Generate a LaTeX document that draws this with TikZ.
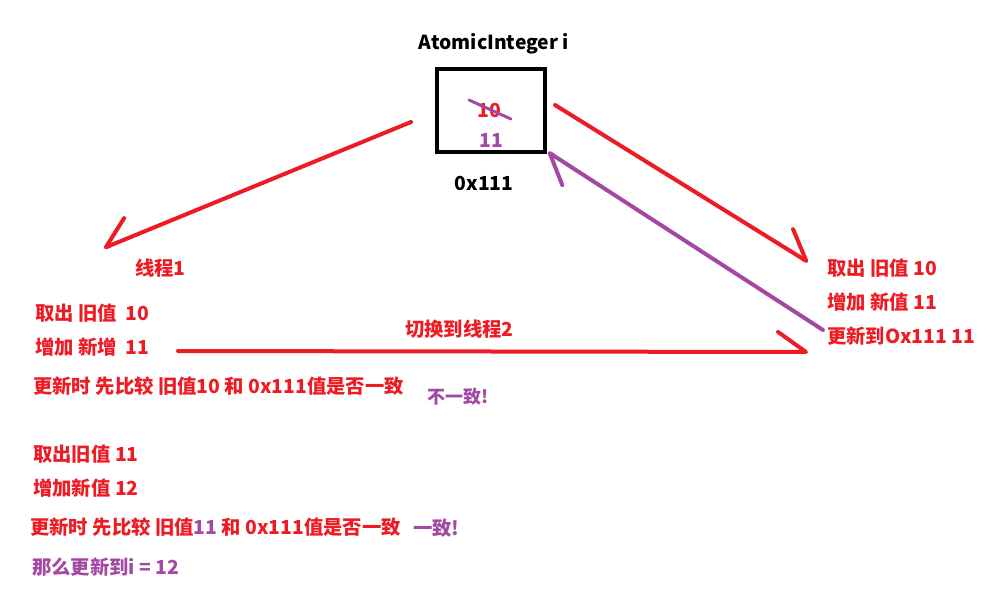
\documentclass[tikz,border=0pt]{standalone}
\usepackage{fontspec}
\setmainfont{Noto Sans CJK SC}
\usetikzlibrary{arrows.meta}
\definecolor{paintred}{RGB}{237,28,36}
\definecolor{paintpurple}{RGB}{163,73,164}

\tikzset{
  lbl/.style={inner sep=0pt, font=\bfseries\fontsize{14.5}{16}\selectfont},
  redlbl/.style={lbl, anchor=west, text=paintred},
  purplbl/.style={lbl, anchor=west, text=paintpurple},
  stroke/.style={line width=3pt, line cap=round},
  barbtip/.style={-{Straight Barb[harpoon,round,length=21pt,width=30pt]}},
  barbswap/.style={-{Straight Barb[harpoon,swap,round,length=21pt,width=30pt]}}
}

\begin{document}
\begin{tikzpicture}[x=0.75pt,y=-0.75pt]
  \useasboundingbox (0,0) rectangle (993,603);

  % the shared variable
  \node[lbl] (title) at (494,44) {AtomicInteger i};
  \node[draw, line width=3pt, minimum width=81pt, minimum height=62pt, inner sep=0pt] (box) at (491,110.5) {};
  \node[lbl, text=paintred] (old) at (489,110) {10};
  \draw[line width=2.2pt, paintpurple, line cap=round] (469,100) -- (511,119);
  \node[lbl, text=paintpurple] (new) at (491,140) {11};
  \node[lbl] (addr) at (484,183) {0x111};

  % thread 1
  \node[redlbl] (t1) at (135,268) {线程1};
  \node[redlbl] (t1get) at (35,313) {取出 旧值 \ 10};
  \node[redlbl] (t1inc) at (35,347) {增加 新增 \ 11};
  \node[redlbl] (t1cmp) at (33,386) {更新时 先比较 旧值10 和 0x111值是否一致};
  \node[purplbl, font=\bfseries\fontsize{13.5}{15}\selectfont] (t1fail) at (427,397) {不一致!};
  \node[redlbl] (t1get2) at (33,454) {取出旧值 11};
  \node[redlbl] (t1inc2) at (33,488) {增加新值 12};
  \node[redlbl] (t1cmp2) at (30,527) {更新时 先比较 旧值\textcolor{paintpurple}{11} 和 0x111值是否一致};
  \node[purplbl] (t1ok) at (413,528) {一致!};
  \node[purplbl] (t1set) at (32,567) {那么更新到i = 12};

  % thread 2
  \node[redlbl] (switch) at (405,329) {切换到线程2};
  \node[redlbl] (t2get) at (827,268) {取出 旧值 10};
  \node[redlbl] (t2inc) at (827,302) {增加 新值 11};
  \node[redlbl] (t2set) at (827,336) {更新到Ox111 11};

  % arrow ends
  \coordinate (a1s) at (411,122);
  \coordinate (a1e) at (104,248);
  \coordinate (a2s) at (555,105);
  \coordinate (a2e) at (808,262);
  \coordinate (a3s) at (178,351);
  \coordinate (a3e) at (808,352);
  \coordinate (a4s) at (823,330);
  \coordinate (a4e) at (548,152);

  \draw[stroke, paintred, barbswap] (a1s) -- (a1e);
  \draw[stroke, paintred, barbtip] (a2s) -- (a2e);
  \draw[stroke, paintred, barbtip] (a3s) -- (a3e);
  \draw[stroke, paintpurple, barbtip] (a4s) -- (a4e);
\end{tikzpicture}
\end{document}
